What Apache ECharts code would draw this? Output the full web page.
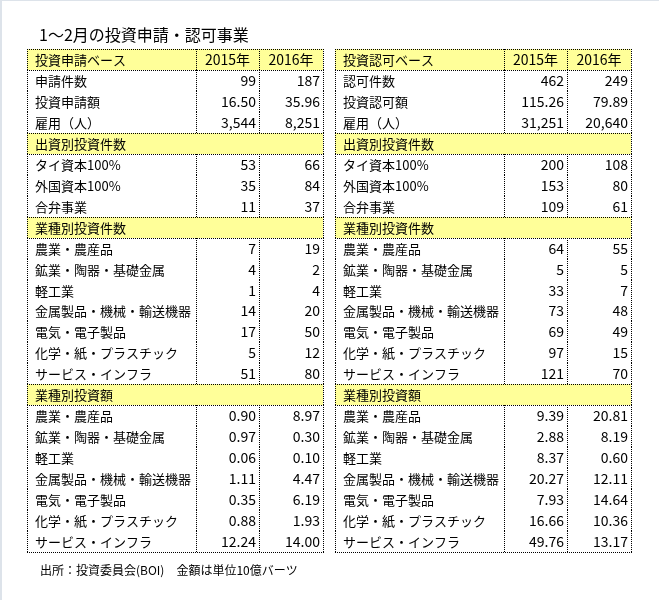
<!DOCTYPE html>
<html><head><meta charset="utf-8">
<script src="https://cdn.jsdelivr.net/npm/echarts@6/dist/echarts.min.js"></script>
<style>html,body{margin:0;padding:0;background:#fff}#c{width:659px;height:600px}</style>
</head><body><div id="c"></div>
<script>
// ---- data ----
const titleText = '1～2月の投資申請・認可事業';
const sourceText = '出所：投資委員会(BOI)　金額は単位10億バーツ';
const yearLabels = ['2015年', '2016年'];
const blockTitles = ['投資申請ベース', '投資認可ベース'];
const sectionTitles = ['出資別投資件数', '業種別投資件数', '業種別投資額'];
const applyBaseLabels = ['申請件数', '投資申請額', '雇用（人）'];
const approveBaseLabels = ['認可件数', '投資認可額', '雇用（人）'];
const capitalLabels = ['タイ資本100%', '外国資本100%', '合弁事業'];
const industryLabels = ['農業・農産品', '鉱業・陶器・基礎金属', '軽工業', '金属製品・機械・輸送機器', '電気・電子製品', '化学・紙・プラスチック', 'サービス・インフラ'];

const applyBase2015 = [99, 16.50, 3544];
const applyBase2016 = [187, 35.96, 8251];
const applyCapital2015 = [53, 35, 11];
const applyCapital2016 = [66, 84, 37];
const applyIndCount2015 = [7, 4, 1, 14, 17, 5, 51];
const applyIndCount2016 = [19, 2, 4, 20, 50, 12, 80];
const applyIndAmount2015 = [0.90, 0.97, 0.06, 1.11, 0.35, 0.88, 12.24];
const applyIndAmount2016 = [8.97, 0.30, 0.10, 4.47, 6.19, 1.93, 14.00];

const approveBase2015 = [462, 115.26, 31251];
const approveBase2016 = [249, 79.89, 20640];
const approveCapital2015 = [200, 153, 109];
const approveCapital2016 = [108, 80, 61];
const approveIndCount2015 = [64, 5, 33, 73, 69, 97, 121];
const approveIndCount2016 = [55, 5, 7, 48, 49, 15, 70];
const approveIndAmount2015 = [9.39, 2.88, 8.37, 20.27, 7.93, 16.66, 49.76];
const approveIndAmount2016 = [20.81, 8.19, 0.60, 12.11, 14.64, 10.36, 13.17];

// ---- formatting / layout ----
const fmtCount = v => String(v);
const fmtAmount = v => v.toFixed(2);
const fmtPeople = v => v.toLocaleString('en-US');
const baseFormats = [fmtCount, fmtAmount, fmtPeople];
const colEdges = [0, 169, 232, 296];
const FONT = '"Noto Sans CJK JP", "Noto Sans", sans-serif';

function buildRows(head, baseLabels, b15, b16, c15, c16, ic15, ic16, ia15, ia16) {
  const rows = [{ kind: 'head', label: head, a: yearLabels[0], b: yearLabels[1] }];
  baseLabels.forEach((l, i) => rows.push({ kind: 'data', label: l, a: baseFormats[i](b15[i]), b: baseFormats[i](b16[i]) }));
  rows.push({ kind: 'sec', label: sectionTitles[0] });
  capitalLabels.forEach((l, i) => rows.push({ kind: 'data', label: l, a: fmtCount(c15[i]), b: fmtCount(c16[i]) }));
  rows.push({ kind: 'sec', label: sectionTitles[1] });
  industryLabels.forEach((l, i) => rows.push({ kind: 'data', label: l, a: fmtCount(ic15[i]), b: fmtCount(ic16[i]) }));
  rows.push({ kind: 'sec', label: sectionTitles[2] });
  industryLabels.forEach((l, i) => rows.push({ kind: 'data', label: l, a: fmtAmount(ia15[i]), b: fmtAmount(ia16[i]) }));
  return rows;
}

const leftRows = buildRows(blockTitles[0], applyBaseLabels, applyBase2015, applyBase2016, applyCapital2015, applyCapital2016, applyIndCount2015, applyIndCount2016, applyIndAmount2015, applyIndAmount2016);
const rightRows = buildRows(blockTitles[1], approveBaseLabels, approveBase2015, approveBase2016, approveCapital2015, approveCapital2016, approveIndCount2015, approveIndCount2016, approveIndAmount2015, approveIndAmount2016);

const dot = { stroke: '#000', lineWidth: 1, lineDash: [1, 1] };
function vline(x, y1, y2) { return { type: 'line', shape: { x1: x, y1: y1, x2: x, y2: y2 }, style: dot, silent: true }; }
function hline(y, x1, x2) { return { type: 'line', shape: { x1: x1, y1: y, x2: x2, y2: y }, style: dot, silent: true }; }

function makeRender(rows) {
  return function (params, api) {
    const i = api.value(1);
    const r = rows[i];
    const c = api.coord([0, i]);
    const h = api.size([0, 1])[1];
    const yt = Math.round(c[1] - h / 2), yb = Math.round(c[1] + h / 2);
    const X = colEdges.map(e => Math.round(api.coord([e, i])[0]));
    const cy = (yt + yb) / 2 + 0.5;
    const ch = [];
    const tfont = '13px ' + FONT;
    const nfont = '14px ' + FONT;
    if (r.kind !== 'data') {
      ch.push({ type: 'rect', shape: { x: X[0], y: yt, width: X[3] - X[0], height: yb - yt }, style: { fill: '#FFFF99' }, silent: true });
    }
    ch.push({ type: 'text', style: { x: X[0] + 8, y: cy, text: r.label, fill: '#000', font: tfont, align: 'left', verticalAlign: 'middle' }, silent: true });
    if (r.kind === 'head') {
      ch.push({ type: 'text', style: { x: (X[1] + X[2]) / 2, y: cy, text: r.a, fill: '#000', font: nfont, align: 'center', verticalAlign: 'middle' }, silent: true });
      ch.push({ type: 'text', style: { x: (X[2] + X[3]) / 2, y: cy, text: r.b, fill: '#000', font: nfont, align: 'center', verticalAlign: 'middle' }, silent: true });
    } else if (r.kind === 'data') {
      ch.push({ type: 'text', style: { x: X[2] - 3, y: cy, text: r.a, fill: '#000', font: nfont, align: 'right', verticalAlign: 'middle' }, silent: true });
      ch.push({ type: 'text', style: { x: X[3] - 3, y: cy, text: r.b, fill: '#000', font: nfont, align: 'right', verticalAlign: 'middle' }, silent: true });
    }
    // borders
    ch.push(vline(X[0] + 0.5, yt, yb + 1));
    ch.push(vline(X[3] + 0.5, yt, yb + 1));
    if (r.kind !== 'sec') {
      ch.push(vline(X[1] + 0.5, yt, yb + 1));
      ch.push(vline(X[2] + 0.5, yt, yb + 1));
    }
    if (r.kind !== 'data' || i === 0) ch.push(hline(yt + 0.5, X[0], X[3] + 1));
    if (r.kind !== 'data' || i === rows.length - 1) ch.push(hline(yb + 0.5, X[0], X[3] + 1));
    return { type: 'group', children: ch };
  };
}

const rowCats = leftRows.map((r, i) => String(i));
const chart = echarts.init(document.getElementById('c'));
chart.setOption({
  backgroundColor: '#fff',
  animation: false,
  title: [
    { text: titleText, left: 34, top: 22, textStyle: { fontFamily: FONT, fontSize: 16, fontWeight: 'normal', color: '#000' } },
    { text: sourceText, left: 35, top: 559, textStyle: { fontFamily: FONT, fontSize: 12, fontWeight: 'normal', color: '#000' } }
  ],
  graphic: [
    { type: 'rect', left: 0, top: 0, shape: { width: 2, height: 600 }, style: { fill: '#dde3ea' }, silent: true },
    { type: 'rect', left: 0, top: 0, shape: { width: 659, height: 1 }, style: { fill: '#dde3ea' }, silent: true }
  ],
  grid: [
    { left: 27, top: 49, width: 296, height: 503 },
    { left: 335, top: 49, width: 296, height: 503 }
  ],
  xAxis: [
    { gridIndex: 0, type: 'value', min: 0, max: 296, show: false },
    { gridIndex: 1, type: 'value', min: 0, max: 296, show: false }
  ],
  yAxis: [
    { gridIndex: 0, type: 'category', data: rowCats, inverse: true, show: false },
    { gridIndex: 1, type: 'category', data: rowCats, inverse: true, show: false }
  ],
  series: [
    { type: 'custom', xAxisIndex: 0, yAxisIndex: 0, renderItem: makeRender(leftRows), data: leftRows.map((r, i) => [0, i]), encode: { x: 0, y: 1 }, clip: false },
    { type: 'custom', xAxisIndex: 1, yAxisIndex: 1, renderItem: makeRender(rightRows), data: rightRows.map((r, i) => [0, i]), encode: { x: 0, y: 1 }, clip: false }
  ]
});
</script></body></html>
